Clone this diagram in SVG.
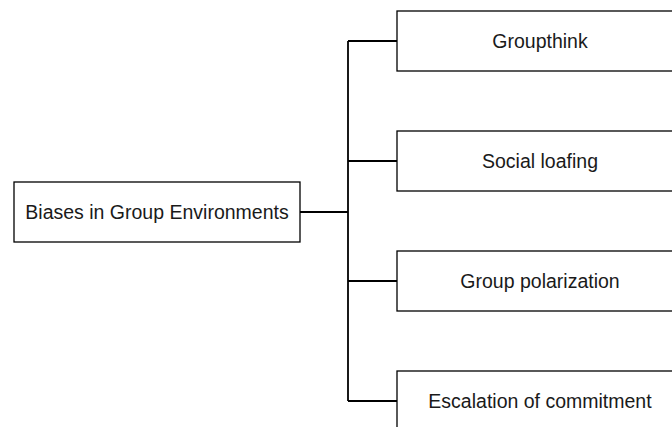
<svg xmlns="http://www.w3.org/2000/svg" width="672" height="427" viewBox="0 0 672 427">
<style>
.box{fill:#fff;stroke:#000;stroke-width:1.3}
.lbl{font-family:"Liberation Sans",Arial,sans-serif;font-size:19.5px;fill:#1a1a1a;text-anchor:middle}
.conn{fill:none;stroke:#000;stroke-width:1.8}
</style>
<rect width="672" height="427" fill="#fff"/>
<g id="connectors">
<path class="conn" d="M300 212 H348"/>
<path class="conn" d="M348 41 V401"/>
<path class="conn" d="M348 41 H397"/>
<path class="conn" d="M348 161 H397"/>
<path class="conn" d="M348 281 H397"/>
<path class="conn" d="M348 401 H397"/>
</g>
<g id="root"><rect class="box" x="14" y="182" width="286" height="60"/><text class="lbl" x="157" y="219">Biases in Group Environments</text></g>
<g id="groupthink"><rect class="box" x="397" y="11" width="286" height="60"/><text class="lbl" x="540" y="48">Groupthink</text></g>
<g id="social-loafing"><rect class="box" x="397" y="131" width="286" height="60"/><text class="lbl" x="540" y="168">Social loafing</text></g>
<g id="group-polarization"><rect class="box" x="397" y="251" width="286" height="60"/><text class="lbl" x="540" y="288">Group polarization</text></g>
<g id="escalation"><rect class="box" x="397" y="371" width="286" height="60"/><text class="lbl" x="540" y="408">Escalation of commitment</text></g>
</svg>
